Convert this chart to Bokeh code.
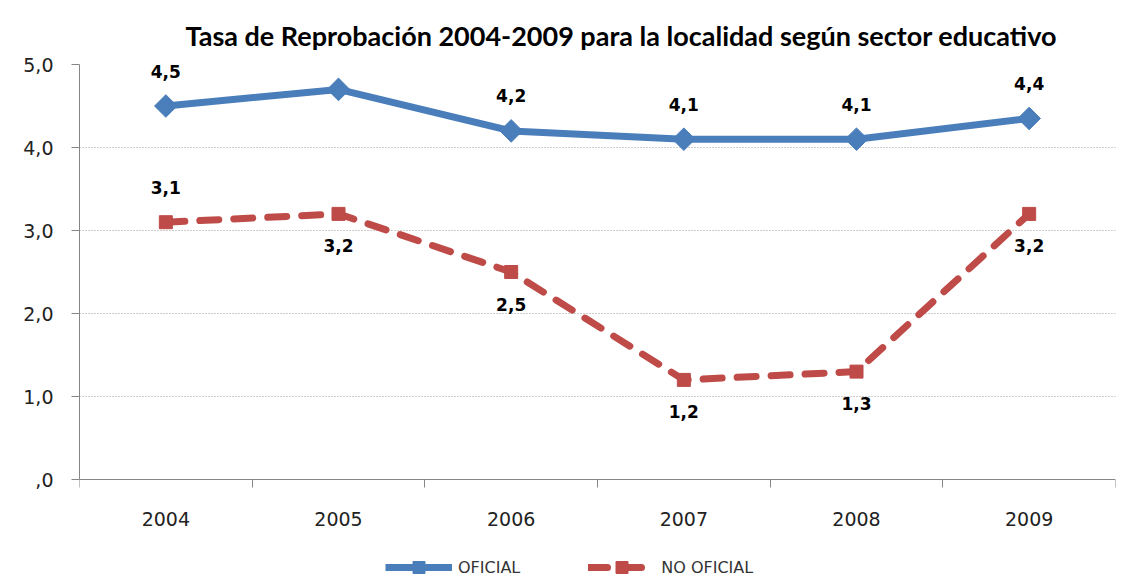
import math
from bokeh.plotting import figure
from bokeh.models import (Range1d, FixedTicker, ColumnDataSource, Legend, LegendItem)
from bokeh.core.properties import value
from bokeh.embed import file_html
from bokeh.resources import INLINE

years = ["2004", "2005", "2006", "2007", "2008", "2009"]
oficial = [4.5, 4.7, 4.2, 4.1, 4.1, 4.35]
oficial_labels = ["4,5", "4,7", "4,2", "4,1", "4,1", "4,4"]
no_oficial = [3.1, 3.2, 2.5, 1.2, 1.3, 3.2]
no_oficial_labels = ["3,1", "3,2", "2,5", "1,2", "1,3", "3,2"]
no_oficial_label_side = ["above", "below", "below", "below", "below", "below"]
y_ticks = [0, 1, 2, 3, 4, 5]
y_tick_labels = [",0", "1,0", "2,0", "3,0", "4,0", "5,0"]

BLUE = "#4A7EBB"
RED = "#BE4B48"

xs = [i + 0.5 for i in range(len(years))]

# frame spans down to the legend area; the value axis runs 0..5 over the upper 415 px
W, H = 1123, 578
TOP, LEFT, RIGHT = 64, 79, 8
PX_PER_UNIT = 83.0
y_low = 5 - (H - TOP) / PX_PER_UNIT

p = figure(width=W, height=H, output_backend="svg", toolbar_location=None,
           x_range=Range1d(0, len(years)), y_range=Range1d(y_low, 5))
p.min_border_left = LEFT
p.min_border_right = RIGHT
p.min_border_top = TOP
p.min_border_bottom = 0
p.outline_line_color = None

p.title.text = "Tasa de Reprobación 2004-2009 para la localidad según  sector educativo"
p.title.text_font = "Lato"
p.title.text_font_size = "27px"
p.title.text_font_style = "bold"
p.title.text_color = "#000000"
p.title.align = "left"
p.title.offset = 106
p.title.standoff = 26

xa = p.xaxis[0]
xa.fixed_location = 0
xa.ticker = FixedTicker(ticks=xs, minor_ticks=list(range(len(years) + 1)))
xa.major_label_overrides = {x: y for x, y in zip(xs, years)}
xa.major_tick_line_color = None
xa.minor_tick_out = 8
xa.minor_tick_in = 0
xa.minor_tick_line_color = "#868686"
xa.axis_line_color = "#868686"
xa.major_label_standoff = 24
xa.major_label_text_font = "DejaVu Sans"
xa.major_label_text_font_size = "19px"
xa.major_label_text_color = "#222222"

ya = p.yaxis[0]
ya.bounds = (0, 5)
ya.ticker = FixedTicker(ticks=y_ticks)
ya.major_label_overrides = {t: l for t, l in zip(y_ticks, y_tick_labels)}
ya.major_tick_out = 8
ya.major_tick_in = 0
ya.major_tick_line_color = "#868686"
ya.axis_line_color = "#868686"
ya.minor_tick_line_color = None
ya.major_label_standoff = 18
ya.major_label_text_font = "DejaVu Sans"
ya.major_label_text_font_size = "19px"
ya.major_label_text_color = "#222222"

p.xgrid.grid_line_color = None
p.ygrid.ticker = FixedTicker(ticks=y_ticks[1:])
p.ygrid.grid_line_color = "#9a9a9a"
p.ygrid.grid_line_dash = "1 2"
p.ygrid.grid_line_width = 1

src_o = ColumnDataSource(dict(x=xs, y=oficial, lab=oficial_labels))
l1 = p.line("x", "y", source=src_o, line_color=BLUE, line_width=7, line_join="round")
m1 = p.scatter("x", "y", source=src_o, marker="square", angle=math.pi / 4, size=16,
               fill_color=BLUE, line_color=BLUE)

src_n = ColumnDataSource(dict(x=xs, y=no_oficial, lab=no_oficial_labels,
                              off=[-35 if s == "above" else 32 for s in no_oficial_label_side]))
l2 = p.line("x", "y", source=src_n, line_color=RED, line_width=7, line_dash="19 15",
            line_cap="round", line_join="round")
m2 = p.scatter("x", "y", source=src_n, marker="square", size=13,
               fill_color=RED, line_color=RED)

p.text("x", "y", text="lab", source=src_o, y_offset=-35, text_align="center",
       text_baseline="middle", text_font=value("DejaVu Sans"), text_font_style="bold",
       text_font_size="17px", text_color="#000000")
p.text("x", "y", text="lab", source=src_n, y_offset="off", text_align="center",
       text_baseline="middle", text_font=value("DejaVu Sans"), text_font_style="bold",
       text_font_size="17px", text_color="#000000")

legend = Legend(items=[LegendItem(label="OFICIAL", renderers=[l1, m1]),
                       LegendItem(label="NO OFICIAL", renderers=[l2, m2])],
                orientation="horizontal", location=(306, -4),
                glyph_width=67, glyph_height=30, label_standoff=6, spacing=68,
                label_text_font="DejaVu Sans", label_text_font_size="16px",
                label_text_color="#333333", border_line_color=None,
                background_fill_alpha=0, padding=0, margin=0)
p.add_layout(legend, "center")

open("out.html", "w").write(file_html(p, INLINE))
